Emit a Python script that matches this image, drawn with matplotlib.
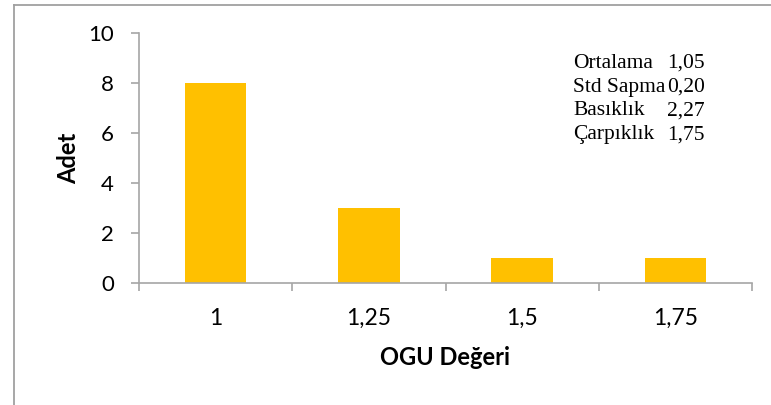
import matplotlib
matplotlib.use('Agg')
import matplotlib.pyplot as plt
from matplotlib.lines import Line2D

# histogram of OGU values
categories = ['1', '1,25', '1,5', '1,75']
counts = [8, 3, 1, 1]

stat_names = ['Ortalama', 'Std Sapma', 'Basıklık', 'Çarpıklık']
stat_values = ['1,05', '0,20', '2,27', '1,75']

bar_color = '#FFC000'
axis_gray = '#A6A6A6'

W, H = 771, 405
fig = plt.figure(figsize=(W / 100, H / 100), dpi=100)
ax = fig.add_axes([139 / W, 1 - 283 / H, (752 - 139) / W, (283 - 33.5) / H])

x = list(range(len(categories)))
ax.bar(x, counts, width=0.4, color=bar_color)

ax.set_xlim(-0.5, len(categories) - 0.5)
ax.set_ylim(0, 10)
ax.set_yticks(range(0, 11, 2))
ax.set_xticks(x)
ax.set_xticklabels(categories)
ax.set_xticks([i - 0.5 for i in range(len(categories) + 1)], minor=True)

for s in ['top', 'right']:
    ax.spines[s].set_visible(False)
for s in ['left', 'bottom']:
    ax.spines[s].set_color(axis_gray)
    ax.spines[s].set_linewidth(1.2)

ax.tick_params(axis='y', length=6, width=1.2, color=axis_gray, pad=12,
               labelsize=16)
ax.tick_params(axis='x', which='major', length=0, pad=18, labelsize=16.5)
ax.tick_params(axis='x', which='minor', length=6, width=1.2, color=axis_gray)
for lbl in ax.get_xticklabels() + ax.get_yticklabels():
    lbl.set_fontfamily('Lato')

ax.set_ylabel('Adet', fontsize=17, fontweight='bold', family='Lato', labelpad=6)
ax.set_xlabel('OGU Değeri', fontsize=17, fontweight='bold', family='Lato', labelpad=12)

# summary statistics block
y0, step = 63.5, 23.7
for i, (name, val) in enumerate(zip(stat_names, stat_values)):
    yy = 1 - (y0 + i * step) / H
    fig.text(573 / W, yy, name, fontsize=15.5, family='Liberation Serif',
             ha='left', va='center')
    fig.text(705 / W, yy, val, fontsize=15.5, family='Liberation Serif',
             ha='right', va='center')

# chart area frame
border = '#A0A0A0'
fig.add_artist(Line2D([13.5 / W, 13.5 / W], [0, 1 - 4.5 / H], color=border, lw=1.3))
fig.add_artist(Line2D([13.5 / W, 1], [1 - 4.5 / H, 1 - 4.5 / H], color=border, lw=1.3))

fig.savefig('out.png', dpi=100, facecolor='white')
